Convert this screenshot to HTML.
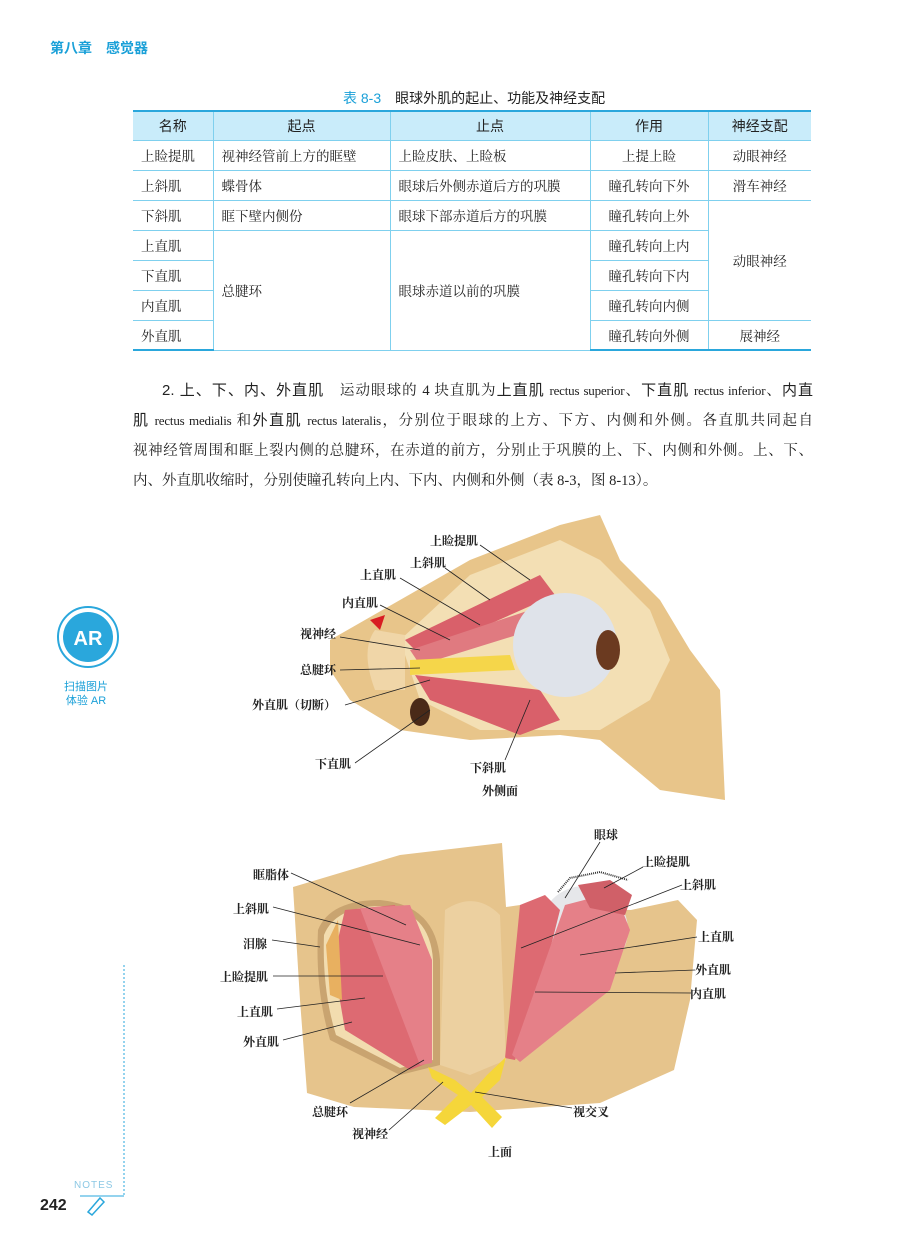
<!DOCTYPE html>
<html><head><meta charset="utf-8"><style>
*{margin:0;padding:0;box-sizing:border-box}
body{width:906px;height:1250px;background:#fff;position:relative;overflow:hidden;font-family:"Liberation Serif","Noto Serif CJK SC",serif;color:#222}
.abs{position:absolute;white-space:nowrap}
.hd{font-family:"Liberation Sans","Noto Sans CJK SC",sans-serif}
table{position:absolute;left:133px;top:110px;border-collapse:collapse;font-size:13.5px;width:678px}
td,th{border-bottom:1px solid #7fd0ee;border-left:1px solid #7fd0ee;height:30px;padding:0 8px;font-weight:normal}
tr td:first-child,tr th:first-child{border-left:none}
th{background:#c9ecfa;font-family:"Liberation Sans","Noto Sans CJK SC",sans-serif;font-size:14px;border-top:2px solid #2aa7dc;height:29px}
tr:last-child td{border-bottom:2px solid #2aa7dc}
.c{text-align:center}
.ln{position:absolute;left:133px;width:680px;font-size:14.5px;line-height:20px;text-align:justify;text-align-last:justify;white-space:nowrap}
.ln .e{font-size:13px;letter-spacing:-0.2px}
.ln b{font-family:"Liberation Sans","Noto Sans CJK SC",sans-serif;font-weight:normal;font-size:15px}
.lb{position:absolute;font-size:12px;font-weight:bold;white-space:nowrap;font-family:"Liberation Serif","Noto Serif CJK SC",serif}
</style></head><body>
<div class="abs hd" style="left:50px;top:38px;color:#1aa0d8;font-weight:bold;font-size:14px">第八章　感觉器</div>
<div class="abs hd" style="left:343px;top:88px;font-size:14px"><span style="color:#1aa0d8">表 8-3</span>　眼球外肌的起止、功能及神经支配</div>
<table>
<tr><th style="width:80px">名称</th><th style="width:177px">起点</th><th style="width:200px">止点</th><th style="width:118px">作用</th><th>神经支配</th></tr>
<tr><td>上睑提肌</td><td>视神经管前上方的眶壁</td><td>上睑皮肤、上睑板</td><td class="c">上提上睑</td><td class="c">动眼神经</td></tr>
<tr><td>上斜肌</td><td>蝶骨体</td><td>眼球后外侧赤道后方的巩膜</td><td class="c">瞳孔转向下外</td><td class="c">滑车神经</td></tr>
<tr><td>下斜肌</td><td>眶下壁内侧份</td><td>眼球下部赤道后方的巩膜</td><td class="c">瞳孔转向上外</td><td class="c" rowspan="4">动眼神经</td></tr>
<tr><td>上直肌</td><td rowspan="4">总腱环</td><td rowspan="4">眼球赤道以前的巩膜</td><td class="c">瞳孔转向上内</td></tr>
<tr><td>下直肌</td><td class="c">瞳孔转向下内</td></tr>
<tr><td>内直肌</td><td class="c">瞳孔转向内侧</td></tr>
<tr><td>外直肌</td><td class="c">瞳孔转向外侧</td><td class="c">展神经</td></tr>
</table>
<div class="ln" style="top:381px;left:162px;width:651px"><b>2. 上、下、内、外直肌</b>　运动眼球的 4 块直肌为<b>上直肌</b> <span class="e">rectus superior</span>、<b>下直肌</b> <span class="e">rectus inferior</span>、<b>内直</b></div>
<div class="ln" style="top:411px"><b>肌</b> <span class="e">rectus medialis</span> 和<b>外直肌</b> <span class="e">rectus lateralis</span>，分别位于眼球的上方、下方、内侧和外侧。各直肌共同起自</div>
<div class="ln" style="top:441px">视神经管周围和眶上裂内侧的总腱环，在赤道的前方，分别止于巩膜的上、下、内侧和外侧。上、下、</div>
<div class="ln" style="top:471px;text-align-last:left">内、外直肌收缩时，分别使瞳孔转向上内、下内、内侧和外侧（表 8-3，图 8-13）。</div>

<svg class="abs" style="left:0;top:0" width="906" height="1250">
<path d="M330,640 L400,600 L470,560 L560,525 L600,515 L620,560 L660,600 L690,650 L720,690 L725,800 L660,790 L600,740 L560,735 L470,740 L400,730 L350,700 L330,670Z" fill="#e8c58a"/>
<path d="M400,640 L470,575 L560,540 L600,560 L650,610 L670,660 L650,700 L600,730 L480,730 L420,700 Z" fill="#f3dfb4"/>
<path d="M405,640 L540,575 L555,595 L420,655Z" fill="#d9606a"/>
<path d="M410,650 L560,600 L565,620 L420,665Z" fill="#e07a80"/>
<path d="M415,675 L540,690 L560,720 L520,735 L430,700Z" fill="#d9606a"/>
<path d="M410,660 L510,655 L515,670 L410,675Z" fill="#f5d64a"/>
<ellipse cx="565" cy="645" rx="52" ry="52" fill="#dfe3ea"/>
<ellipse cx="608" cy="650" rx="12" ry="20" fill="#6b3a20"/>
<path d="M375,630 Q360,650 375,690 L405,690 L405,635Z" fill="#f0d6a8"/>
<ellipse cx="420" cy="712" rx="10" ry="14" fill="#4a2a18"/>
<path d="M370,620 L385,615 L380,630Z" fill="#d81c22"/>
<!-- bottom figure -->
<path d="M293,887 L400,855 L502,843 L506,907 L520,905 L631,910 L678,900 L697,920 L690,1000 L674,1070 L600,1103 L470,1112 L354,1107 L307,1093 L300,1000Z" fill="#e6c48c"/>
<path d="M318,930 Q330,900 380,900 Q436,905 440,960 L440,1065 L400,1075 L330,1040 Q315,990 318,930Z" fill="#c9a470"/>
<path d="M324,935 Q335,907 380,906 Q430,910 433,960 L433,1060 L400,1068 L336,1035 Q322,990 324,935Z" fill="#f2dcaf"/>
<path d="M445,910 Q475,890 500,915 L506,1060 L470,1075 L440,1065Z" fill="#ecd0a0"/>
<path d="M333,960 L345,910 L395,905 L428,1063 L410,1070 L345,1030Z" fill="#dd6a72"/>
<path d="M360,908 L410,905 L432,960 L432,1063 L420,1065Z" fill="#e58088"/>
<path d="M326,945 L338,920 L342,1000 L330,995Z" fill="#e8b060"/>
<ellipse cx="584" cy="930" rx="44" ry="44" fill="#e6e7ea"/>
<path d="M520,905 L545,895 L560,910 L540,990 L515,1060 L505,1058Z" fill="#dd6a72"/>
<path d="M565,905 L615,892 L630,930 L610,990 L520,1062 L512,1055 Z" fill="#e58088"/>
<path d="M578,885 L610,880 L632,895 L625,915 L590,908Z" fill="#d06068"/>
<path d="M558,892 L570,878 L600,872 L628,880" fill="none" stroke="#333" stroke-width="2" stroke-dasharray="1,1"/>
<path d="M428,1067 L455,1080 L471,1093 L487,1075 L506,1057 L500,1080 L482,1097 L502,1117 L492,1128 L471,1105 L445,1125 L435,1118 L458,1095 L432,1078Z" fill="#f5d63a"/>
<g stroke="#222" stroke-width="0.8" fill="none">
<line x1="480" y1="545" x2="530" y2="580"/><line x1="445" y1="568" x2="490" y2="600"/><line x1="400" y1="578" x2="480" y2="625"/><line x1="380" y1="605" x2="450" y2="640"/><line x1="340" y1="637" x2="420" y2="650"/><line x1="340" y1="670" x2="420" y2="668"/><line x1="345" y1="705" x2="430" y2="680"/><line x1="355" y1="763" x2="430" y2="710"/><line x1="505" y1="760" x2="530" y2="700"/>
<line x1="600" y1="842" x2="565" y2="898"/><line x1="643" y1="867" x2="604" y2="888"/><line x1="682" y1="885" x2="521" y2="948"/><line x1="697" y1="937" x2="580" y2="955"/><line x1="695" y1="970" x2="615" y2="973"/><line x1="691" y1="993" x2="535" y2="992"/>
<line x1="291" y1="873" x2="406" y2="925"/><line x1="273" y1="907" x2="420" y2="945"/><line x1="272" y1="940" x2="320" y2="947"/><line x1="273" y1="976" x2="383" y2="976"/><line x1="277" y1="1009" x2="365" y2="998"/><line x1="283" y1="1040" x2="352" y2="1022"/>
<line x1="350" y1="1103" x2="424" y2="1060"/><line x1="389" y1="1130" x2="443" y2="1082"/><line x1="572" y1="1108" x2="475" y2="1092"/>
</g>
<circle cx="88" cy="637" r="30" fill="none" stroke="#2aa7dc" stroke-width="2"/>
<circle cx="88" cy="637" r="25" fill="#2aa7dc"/>
<text x="88" y="645" font-size="20" fill="#fff" text-anchor="middle" font-family="Liberation Sans,sans-serif" font-weight="bold">AR</text>
<line x1="124" y1="965" x2="124" y2="1195" stroke="#2aa7dc" stroke-dasharray="2,2"/>
<line x1="80" y1="1196" x2="124" y2="1196" stroke="#2aa7dc"/>
<path d="M88,1212 L100,1198 L104,1202 L92,1215 Z" fill="none" stroke="#2aa7dc" stroke-width="1.5"/>
</svg>
<div class="abs hd" style="left:64px;top:680px;font-size:11px;color:#1aa0d8;line-height:14px;text-align:center">扫描图片<br>体验 AR</div>
<div class="abs hd" style="left:74px;top:1180px;font-size:10px;color:#8cc8e4;letter-spacing:1px">NOTES</div>
<div class="abs hd" style="left:40px;top:1197px;font-size:16px;font-weight:bold">242</div>

<div class="lb" style="left:430px;top:532px">上睑提肌</div>
<div class="lb" style="left:410px;top:554px">上斜肌</div>
<div class="lb" style="left:360px;top:566px">上直肌</div>
<div class="lb" style="left:342px;top:594px">内直肌</div>
<div class="lb" style="left:300px;top:625px">视神经</div>
<div class="lb" style="left:300px;top:661px">总腱环</div>
<div class="lb" style="left:252px;top:696px">外直肌（切断）</div>
<div class="lb" style="left:315px;top:755px">下直肌</div>
<div class="lb" style="left:470px;top:759px">下斜肌</div>
<div class="lb" style="left:482px;top:782px">外侧面</div>
<div class="lb" style="left:594px;top:826px">眼球</div>
<div class="lb" style="left:642px;top:853px">上睑提肌</div>
<div class="lb" style="left:680px;top:876px">上斜肌</div>
<div class="lb" style="left:698px;top:928px">上直肌</div>
<div class="lb" style="left:695px;top:961px">外直肌</div>
<div class="lb" style="left:690px;top:985px">内直肌</div>
<div class="lb" style="left:253px;top:866px">眶脂体</div>
<div class="lb" style="left:233px;top:900px">上斜肌</div>
<div class="lb" style="left:243px;top:935px">泪腺</div>
<div class="lb" style="left:220px;top:968px">上睑提肌</div>
<div class="lb" style="left:237px;top:1003px">上直肌</div>
<div class="lb" style="left:243px;top:1033px">外直肌</div>
<div class="lb" style="left:312px;top:1103px">总腱环</div>
<div class="lb" style="left:352px;top:1125px">视神经</div>
<div class="lb" style="left:573px;top:1103px">视交叉</div>
<div class="lb" style="left:488px;top:1143px">上面</div>
</body></html>
